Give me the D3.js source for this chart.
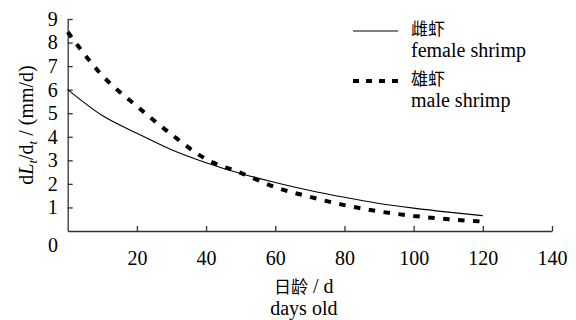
<!DOCTYPE html>
<html>
<head>
<meta charset="utf-8">
<script src="https://cdn.jsdelivr.net/npm/d3@7"></script>
<style>
  body { margin: 0; background: #fff; }
  text { font-family: "Liberation Serif", "Times New Roman", serif; }
</style>
</head>
<body>
<script>
// data
var days = [0, 10, 20, 30, 40, 50, 60, 70, 80, 90, 100, 110, 120];
var female = [6.0, 4.9, 4.15, 3.45, 2.9, 2.44, 2.06, 1.72, 1.43, 1.17, 0.97, 0.8, 0.65];
var male = [8.45, 6.6, 5.3, 4.1, 3.05, 2.47, 1.86, 1.45, 1.1, 0.83, 0.64, 0.5, 0.4];
var xTicks = [20, 40, 60, 80, 100, 120, 140];
var yTicks = [1, 2, 3, 4, 5, 6, 7, 8, 9];
var seriesNames = [["雌虾", "female shrimp"], ["雄虾", "male shrimp"]];

var width = 576, height = 320;
var cjk = "'Noto Sans CJK SC', sans-serif";

var svg = d3.select("body").append("svg")
    .attr("width", width)
    .attr("height", height);

var x = d3.scaleLinear().domain([0, 140]).range([67.7, 552]);
var y = d3.scaleLinear().domain([0, 9]).range([231, 19]);

// axes, ticks point inward
var xAxis = svg.append("g")
    .attr("transform", "translate(0," + y(0) + ")")
    .call(d3.axisBottom(x).tickValues(xTicks).tickSize(-5).tickPadding(20).tickSizeOuter(0));
var yAxis = svg.append("g")
    .attr("transform", "translate(" + x(0) + ",0)")
    .call(d3.axisLeft(y).tickValues(yTicks).tickSize(-5).tickPadding(10).tickSizeOuter(0));

[xAxis, yAxis].forEach(function(a) {
  a.selectAll("path, line").attr("stroke", "#333").attr("stroke-width", 1.3);
  a.selectAll("text")
    .attr("fill", "#000")
    .style("font-family", "'Liberation Serif', serif")
    .style("font-size", "20px");
});

// shared origin label
svg.append("text")
    .attr("x", 58).attr("y", 252)
    .attr("text-anchor", "end")
    .style("font-size", "20px")
    .text("0");

// lines
var line = d3.line()
    .x(function(d) { return x(d[0]); })
    .y(function(d) { return y(d[1]); })
    .curve(d3.curveMonotoneX);

svg.append("path")
    .datum(d3.zip(days, female))
    .attr("d", line)
    .attr("fill", "none")
    .attr("stroke", "#000")
    .attr("stroke-width", 1.1);

svg.append("path")
    .datum(d3.zip(days, male))
    .attr("d", line)
    .attr("fill", "none")
    .attr("stroke", "#000")
    .attr("stroke-width", 4)
    .attr("stroke-dasharray", "6.5,8.5");

// legend
var legend = svg.append("g");
var legY = [31, 81];
legY.forEach(function(ly, i) {
  legend.append("line")
      .attr("x1", 353).attr("x2", 398)
      .attr("y1", ly).attr("y2", ly)
      .attr("stroke", "#000")
      .attr("stroke-width", i == 0 ? 1.1 : 4)
      .attr("stroke-dasharray", i == 0 ? null : "6,7");
  legend.append("text")
      .attr("x", 411).attr("y", ly + 4)
      .style("font-family", cjk)
      .style("font-size", "17px")
      .text(seriesNames[i][0]);
  legend.append("text")
      .attr("x", 411).attr("y", ly + 26)
      .style("font-size", "20px")
      .text(seriesNames[i][1]);
});

// axis titles
var xMid = (x(0) + x(140)) / 2;
var xt = svg.append("text")
    .attr("x", xMid - 6).attr("y", 293)
    .attr("text-anchor", "middle")
    .style("font-size", "20px");
xt.append("tspan").style("font-family", cjk).style("font-size", "17px").text("日龄");
xt.append("tspan").text(" / d");

svg.append("text")
    .attr("x", xMid - 6).attr("y", 315)
    .attr("text-anchor", "middle")
    .style("font-size", "20px")
    .text("days old");

var yt = svg.append("text")
    .attr("transform", "translate(33,125) rotate(-90)")
    .attr("text-anchor", "middle")
    .style("font-size", "20px");
yt.append("tspan").text("d");
yt.append("tspan").style("font-style", "italic").text("L");
yt.append("tspan").attr("dy", 4).style("font-size", "13px").style("font-style", "italic").text("t");
yt.append("tspan").attr("dy", -4).text("/d");
yt.append("tspan").attr("dy", 4).style("font-size", "13px").style("font-style", "italic").text("t");
yt.append("tspan").attr("dy", -4).text(" / (mm/d)");
</script>
</body>
</html>
